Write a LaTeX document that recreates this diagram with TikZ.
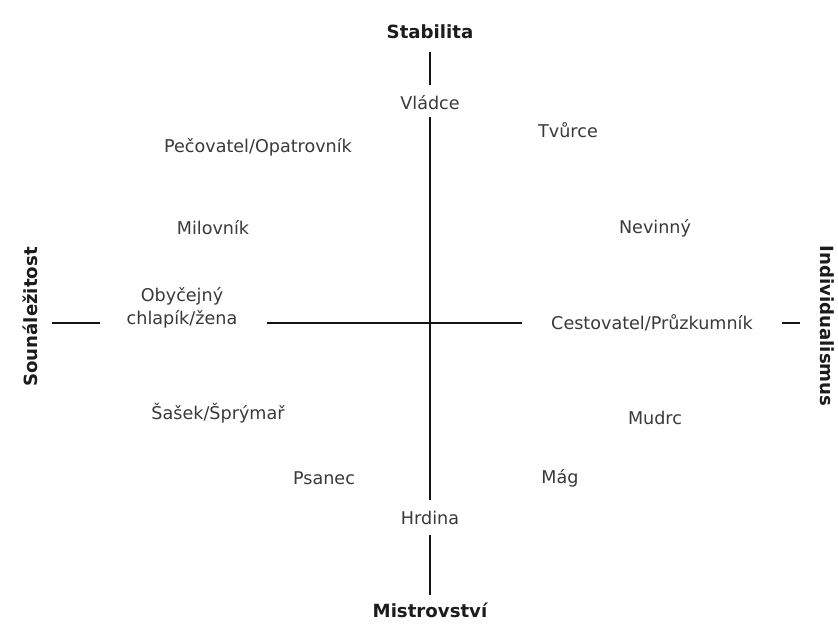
\documentclass[tikz,border=0pt]{standalone}
\usepackage{fontspec}
\setmainfont{DejaVu Sans}

\definecolor{axtext}{RGB}{28,28,28}
\definecolor{roletext}{RGB}{58,58,58}
\definecolor{axdraw}{RGB}{20,20,20}

\begin{document}
\begin{tikzpicture}[
  x=0.03cm,
  y=-0.03cm,
  every node/.style={inner sep=0pt, outer sep=0pt},
  rolelabel/.style={font=\fontsize{15}{19.5}\selectfont, text=roletext, align=center},
  axistitle/.style={font=\bfseries\fontsize{15.5}{17}\selectfont, text=axtext, align=center},
  axisline/.style={draw=axdraw, line width=1.8pt}
]

  \path[use as bounding box, fill=white] (0,0) rectangle (838,628);

  % Axis ends.
  \node[axistitle] (stab) at (430,32) {Stabilita};
  \node[axistitle] (mistr) at (430,610) {Mistrovství};
  \node[axistitle, rotate=90] (souna) at (30,317) {Sounáležitost};
  \node[axistitle, rotate=-90] (indiv) at (827,326) {Individualismus};

  % Archetypes on the axes.
  \node[rolelabel] (vladce) at (430,103) {Vládce};
  \node[rolelabel] (hrdina) at (430,518) {Hrdina};
  \node[rolelabel] (obyc) at (182,308) {Obyčejný\\chlapík/žena};
  \node[rolelabel] (cesta) at (652,323) {Cestovatel/Průzkumník};

  % Archetypes in the quadrants.
  \node[rolelabel] (pecov) at (258,147) {Pečovatel/Opatrovník};
  \node[rolelabel] (tvurce) at (568,130) {Tvůrce};
  \node[rolelabel] (milov) at (213,228) {Milovník};
  \node[rolelabel] (nevin) at (655,228) {Nevinný};
  \node[rolelabel] (sasek) at (218,413) {Šašek/Šprýmař};
  \node[rolelabel] (mudrc) at (655,418) {Mudrc};
  \node[rolelabel] (psanec) at (324,478) {Psanec};
  \node[rolelabel] (mag) at (560,478) {Mág};

  % Vertical axis.
  \draw[axisline, shorten <=0.60cm, shorten >=0.54cm] (stab.center) -- (vladce.center);
  \draw[axisline, shorten <=0.42cm, shorten >=0.54cm] (vladce.center) -- (hrdina.center);
  \draw[axisline, shorten <=0.51cm, shorten >=0.45cm] (hrdina.center) -- (mistr.center);

  % Horizontal axis.
  \draw[axisline, shorten <=0.66cm, shorten >=2.46cm] (souna.center |- cesta.center) -- (obyc.center |- cesta.center);
  \draw[axisline, shorten <=2.55cm, shorten >=3.90cm] (obyc.center |- cesta.center) -- (cesta.center);
  \draw[axisline, shorten <=3.90cm, shorten >=0.81cm] (cesta.center) -- (indiv.center |- cesta.center);

\end{tikzpicture}
\end{document}
